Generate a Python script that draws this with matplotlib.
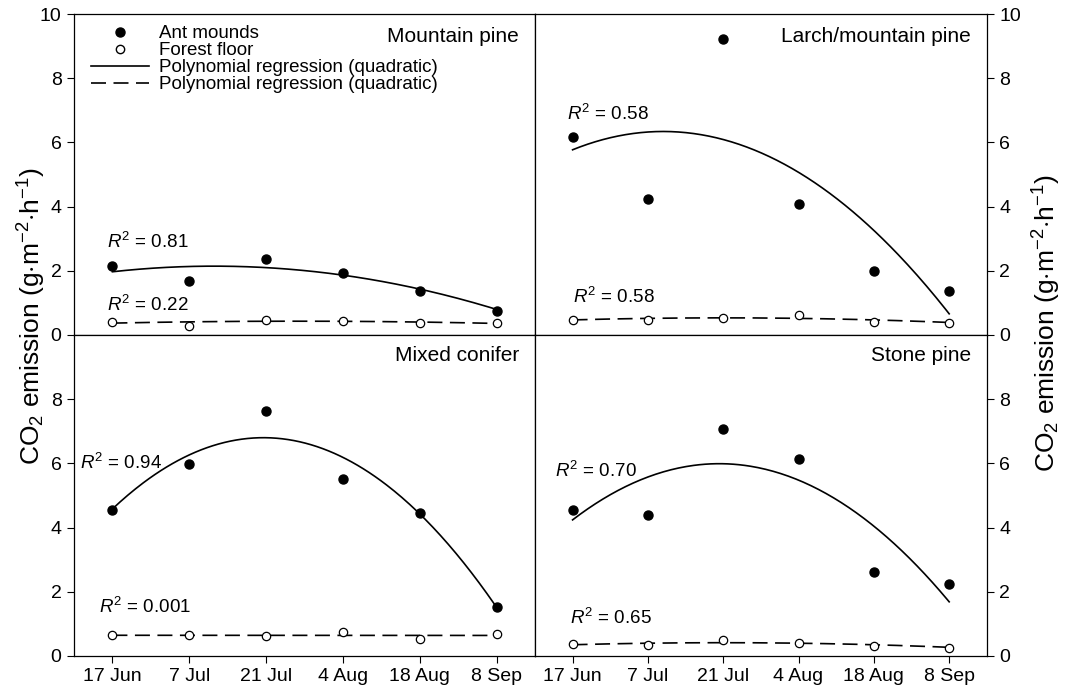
import matplotlib
matplotlib.use("Agg")
import matplotlib.pyplot as plt
import numpy as np
from matplotlib.lines import Line2D

plt.rcParams["font.family"] = ["Liberation Sans", "DejaVu Sans"]
plt.rcParams["mathtext.fontset"] = "custom"
plt.rcParams["mathtext.rm"] = "Liberation Sans"
plt.rcParams["mathtext.it"] = "Liberation Sans:italic"

dates = ["17 Jun", "7 Jul", "21 Jul", "4 Aug", "18 Aug", "8 Sep"]

# panel order: top-left, top-right, bottom-left, bottom-right
sites = ["Mountain pine", "Larch/mountain pine", "Mixed conifer", "Stone pine"]

ant_mountain = [2.15, 1.68, 2.36, 1.94, 1.36, 0.74]
ant_larch = [6.17, 4.24, 9.21, 4.09, 1.99, 1.38]
ant_mixed = [4.55, 5.98, 7.64, 5.51, 4.44, 1.52]
ant_stone = [4.55, 4.40, 7.06, 6.15, 2.61, 2.25]

floor_mountain = [0.40, 0.29, 0.47, 0.45, 0.38, 0.37]
floor_larch = [0.47, 0.46, 0.52, 0.61, 0.42, 0.38]
floor_mixed = [0.65, 0.65, 0.61, 0.76, 0.54, 0.67]
floor_stone = [0.36, 0.33, 0.49, 0.40, 0.31, 0.26]

# quadratic regression coefficients (a, b, c) for a*x^2 + b*x + c
fit_ant_mountain = [-0.0997, 0.264, 1.97]
fit_ant_larch = [-0.394, 0.948, 5.77]
fit_ant_mixed = [-0.574, 2.258, 4.58]
fit_ant_stone = [-0.4617, 1.798, 4.24]

fit_floor_mountain = [-0.0104, 0.05, 0.37]
fit_floor_larch = [-0.016, 0.064, 0.47]
fit_floor_mixed = [0.0, -0.001, 0.645]
fit_floor_stone = [-0.016, 0.064, 0.35]

r2_ant = ["0.81", "0.58", "0.94", "0.70"]
r2_floor = ["0.22", "0.58", "0.001", "0.65"]

ants = [ant_mountain, ant_larch, ant_mixed, ant_stone]
floors = [floor_mountain, floor_larch, floor_mixed, floor_stone]
fits_ant = [fit_ant_mountain, fit_ant_larch, fit_ant_mixed, fit_ant_stone]
fits_floor = [fit_floor_mountain, fit_floor_larch, fit_floor_mixed, fit_floor_stone]

# label positions (x, y) in data units
r2_ant_pos = [(-0.07, 2.9), (-0.07, 6.9), (-0.42, 6.0), (-0.23, 5.75)]
r2_floor_pos = [(-0.07, 0.93), (0.0, 1.18), (-0.18, 1.53), (-0.04, 1.2)]

fig, axes = plt.subplots(2, 2, figsize=(10.68, 6.90), dpi=100,
                         gridspec_kw={"width_ratios": [461, 452]})
fig.subplots_adjust(left=0.0693, right=0.924, top=0.9797, bottom=0.0493,
                    wspace=0, hspace=0)

x = np.arange(len(dates))
xs = np.linspace(0, len(dates) - 1, 200)

for i, ax in enumerate(axes.flat):
    ax.plot(xs, np.polyval(fits_ant[i], xs), color="black", lw=1.2, zorder=2)
    ax.plot(xs, np.polyval(fits_floor[i], xs), color="black", lw=1.2,
            dashes=(9, 4.5), zorder=2)
    ax.plot(x, ants[i], "o", color="black", ms=6.5, zorder=3)
    ax.plot(x, floors[i], "o", mfc="white", mec="black", mew=0.9, ms=6,
            zorder=3)

    ax.set_xlim(-0.5, 5.5)
    ax.set_ylim(0, 10)
    ax.set_xticks(x)
    ax.text(0.965, 0.93 if i < 2 else 0.935, sites[i], transform=ax.transAxes,
            ha="right", va="center", fontsize=15)
    ax.text(*r2_ant_pos[i], r"$R^2$ = " + r2_ant[i], fontsize=13.5,
            ha="left", va="center")
    ax.text(*r2_floor_pos[i], r"$R^2$ = " + r2_floor[i], fontsize=13.5,
            ha="left", va="center")

    row, col = divmod(i, 2)
    if row == 0:
        ax.set_yticks([0, 2, 4, 6, 8, 10])
        ax.tick_params(axis="x", length=0, labelbottom=False)
    else:
        ax.set_yticks([0, 2, 4, 6, 8])
        ax.set_xticklabels(dates)
    if col == 1:
        ax.yaxis.tick_right()
    ax.tick_params(labelsize=14, direction="out", length=5, width=0.8,
                   colors="black", pad=4)
    for s in ax.spines.values():
        s.set_linewidth(0.9)

handles = [
    Line2D([], [], marker="o", ls="none", color="black", ms=6.5),
    Line2D([], [], marker="o", ls="none", mfc="white", mec="black", ms=6),
    Line2D([], [], color="black", lw=1.2),
    Line2D([], [], color="black", lw=1.2, dashes=(9, 4.5)),
]
labels = ["Ant mounds", "Forest floor", "Polynomial regression (quadratic)",
          "Polynomial regression (quadratic)"]
axes[0, 0].legend(handles, labels, loc="upper left", frameon=False,
                  fontsize=13.5, handlelength=3.1, handletextpad=0.55,
                  labelspacing=0.0, borderaxespad=0.1,
                  bbox_to_anchor=(0.016, 0.995))

ylab = r"CO$_2$ emission (g$\cdot$m$^{-2}$$\cdot$h$^{-1}$)"
fig.text(0.030, 0.542, ylab, rotation=90, ha="center", va="center",
         fontsize=19)
fig.text(0.980, 0.531, ylab, rotation=90, ha="center", va="center",
         fontsize=19)

fig.savefig("out.png", dpi=100)
